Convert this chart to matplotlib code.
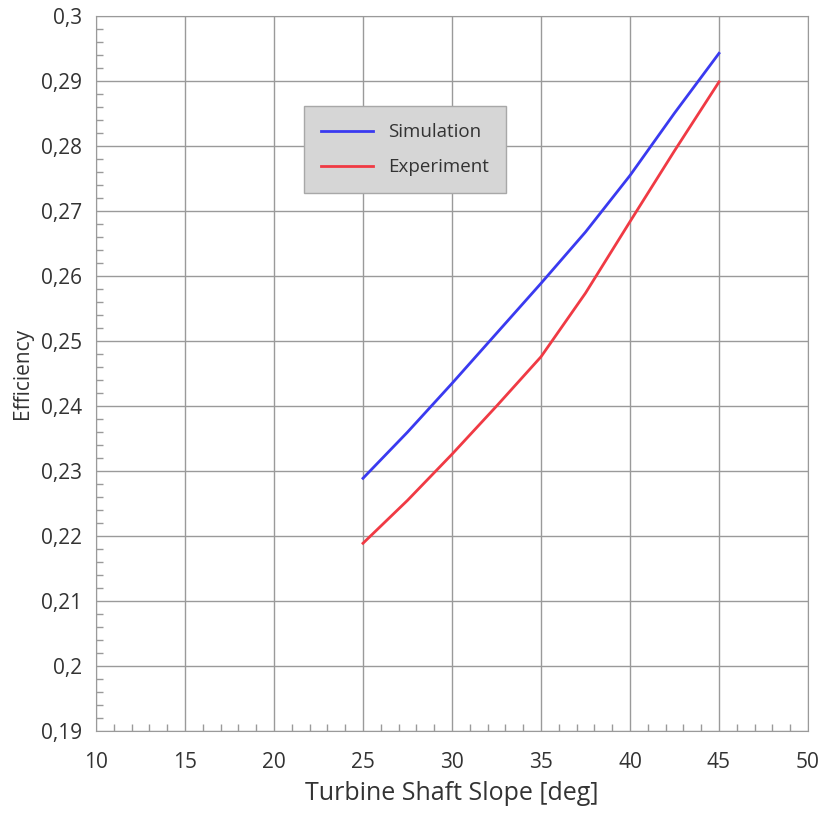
#!/usr/bin/env python3
# Efficiency vs turbine shaft slope: simulation vs experiment

import matplotlib
matplotlib.use('Agg')
import matplotlib.pyplot as plt
from matplotlib.ticker import MultipleLocator, FuncFormatter

slope      = [25, 27.5, 30, 32.5, 35, 37.5, 40, 42.5, 45]
simulation = [0.2289, 0.2360, 0.2435, 0.2512, 0.2589, 0.2668, 0.2755, 0.2851, 0.2943]
experiment = [0.2189, 0.2255, 0.2326, 0.2400, 0.2476, 0.2574, 0.2684, 0.2793, 0.2899]

plt.rcParams['font.family'] = ['Open Sans', 'DejaVu Sans']

TXT  = '#333333'
GRID = '#9a9a9a'

fig = plt.figure(figsize=(8.26, 8.15), dpi=100)
ax = fig.add_axes([0.1162, 0.103, 0.8620, 0.877])

ax.plot(slope, simulation, color='#3a3af0', lw=2, label='Simulation')
ax.plot(slope, experiment, color='#f03a44', lw=2, label='Experiment')

ax.set_xlim(10, 50)
ax.set_ylim(0.19, 0.30)
ax.xaxis.set_major_locator(MultipleLocator(5))
ax.xaxis.set_minor_locator(MultipleLocator(1))
ax.yaxis.set_major_locator(MultipleLocator(0.01))
ax.yaxis.set_minor_locator(MultipleLocator(0.002))
ax.yaxis.set_major_formatter(FuncFormatter(lambda v, p: f'{v:.2f}'.rstrip('0').replace('.', ',')))

ax.grid(True, which='major', color=GRID, lw=1)
ax.tick_params(which='major', length=0, labelsize=15, labelcolor=TXT)
ax.tick_params(axis='x', which='major', pad=15)
ax.tick_params(axis='y', which='major', pad=10)
ax.tick_params(which='minor', direction='in', length=5, color=GRID, width=1)
for s in ax.spines.values():
    s.set_color(GRID)

ax.set_xlabel('Turbine Shaft Slope [deg]', fontsize=18, color=TXT, labelpad=6)
ax.set_ylabel('Efficiency', fontsize=15, color=TXT, labelpad=6)

leg = ax.legend(loc='upper left', bbox_to_anchor=(0.292, 0.874), fontsize=13.5,
                handlelength=2.8, labelspacing=0.9, borderpad=0.9,
                fancybox=False, framealpha=1, borderaxespad=0)
leg.get_frame().set_facecolor('#d6d6d6')
leg.get_frame().set_edgecolor('#a8a8a8')
for t in leg.get_texts():
    t.set_color(TXT)

fig.savefig('out.png', dpi=100, facecolor='white')
plt.close()
